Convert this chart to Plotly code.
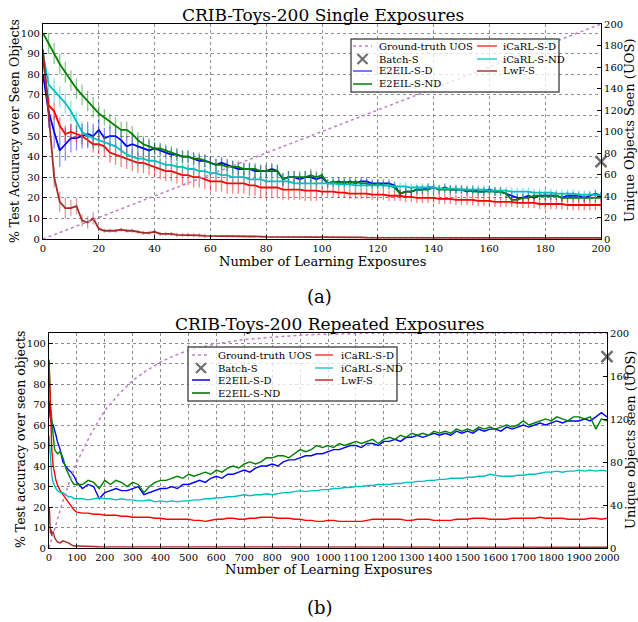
import plotly.graph_objects as go

W, H = 638, 622
FONT = "DejaVu Serif"

def PX(p):
    return p / W

def PY(p):
    return 1 - p / H

# ---------------- (a) Single exposures ----------------
top_x = list(range(0, 201, 2))

top_e2eil_d = [80, 62, 52, 43, 46, 49, 49, 50, 51, 50,
               53, 49, 50, 50, 48, 45, 46, 45, 44, 43,
               44, 43, 42, 41, 41, 40, 40, 39, 38, 38,
               37, 36, 37, 36, 35, 34, 34, 34, 33, 33,
               33, 34, 33, 29, 30, 30, 29, 30, 30, 29,
               30, 27, 27, 28, 27, 28, 27, 28, 28, 27,
               27, 27, 27, 26, 22, 23, 23, 24, 24, 25,
               25, 24, 25, 24, 24, 24, 23, 24, 23, 23,
               24, 23, 23, 22, 21, 20, 20, 21, 20, 21,
               21, 21, 21, 20, 21, 21, 21, 20, 21, 22,
               21]
top_e2eil_d_err = [0, 8, 8, 8, 8, 7, 6, 6, 6, 6] + [5] * 10 + [3] * 30 + [2] * 51

top_e2eil_nd = [100, 95, 90, 85, 81, 77, 73, 70, 67, 64,
                61, 59, 57, 55, 53, 53, 51, 48, 46, 45,
                44, 44, 43, 42, 41, 40, 40, 39, 39, 38,
                37, 36, 36, 35, 35, 35, 34, 34, 34, 33,
                33, 33, 33, 29, 30, 30, 30, 30, 31, 30,
                31, 27, 28, 27, 28, 27, 28, 27, 27, 26,
                27, 26, 26, 25, 22, 23, 23, 24, 24, 24,
                25, 24, 24, 24, 24, 24, 24, 23, 23, 23,
                23, 23, 23, 22, 19, 19, 20, 20, 21, 21,
                21, 21, 21, 20, 20, 20, 20, 20, 20, 20,
                20]
top_e2eil_nd_err = [0, 5, 5, 5, 5, 5, 5, 5, 5, 5] + [4] * 10 + [3] * 30 + [2] * 51

top_icarl_d = [88, 65, 62, 55, 51, 52, 51, 50, 48, 46,
               46, 45, 42, 41, 40, 39, 38, 37, 37, 36,
               35, 34, 33, 33, 32, 31, 31, 30, 30, 29,
               28, 28, 28, 27, 27, 27, 27, 26, 26, 25,
               25, 25, 25, 24, 24, 24, 24, 23.5, 23.5, 23.5,
               23, 23, 23, 22.5, 22.5, 22, 22, 22, 22, 21.5,
               21.5, 21.5, 21, 21, 21, 20.5, 20.5, 20, 20, 20,
               20, 19.5, 19.5, 19.5, 19, 19, 19, 19, 18.5, 18.5,
               18.5, 18, 18, 18, 18, 17.5, 17.5, 17.5, 17.5, 17,
               17, 17, 17, 17, 16.5, 16.5, 16.5, 16.5, 16.5, 16.5,
               16.5]
top_icarl_d_err = [0, 4, 4, 4, 4, 4, 4, 4, 4, 4] + [5] * 40 + [2.5] * 51

top_icarl_nd = [90, 75, 72, 69, 66, 62, 57, 52, 50, 49,
                48, 47, 46, 45, 43, 41, 40, 39, 39, 38,
                38, 37, 36, 36, 35, 35, 34, 34, 33, 33,
                32, 32, 31, 31, 30, 30, 30, 29, 29, 29,
                28, 28, 28, 28, 28, 27, 27, 27, 27, 27,
                27, 27, 27, 26.5, 26.5, 26.5, 26, 26, 26, 26,
                26, 26, 26, 25.5, 25.5, 25.5, 25, 25, 25, 25,
                25, 24.5, 24.5, 24.5, 24.5, 24, 24, 24, 24, 24,
                23.5, 23.5, 23.5, 23.5, 23, 23, 23, 23, 22.5, 22.5,
                22.5, 22.5, 22, 22, 22, 22, 21.5, 21.5, 21.5, 21.5,
                21]
top_icarl_nd_err = [0, 6, 6, 5, 5, 5, 5, 5, 5, 5] + [4] * 10 + [3] * 30 + [2] * 51

top_lwf = [92, 62, 30, 18, 15, 15, 16, 9, 8, 10,
           5, 4, 4, 4, 4.5, 4, 4, 3.5, 3, 3,
           3.5, 2.5, 2.5, 2.5, 2, 2, 2, 1.8, 1.8, 1.5,
           1.5, 1.5, 1.5, 1.3, 1.3, 1.3, 1.2, 1.2, 1.2, 1.2,
           1, 1, 1, 1, 1, 1, 1, 1, 1, 1,
           0.9, 1.0, 1.1, 1.0, 0.9, 0.8, 0.8, 0.8, 0.7, 0.7,
           0.8, 0.7, 0.7, 0.7, 0.6, 0.6, 0.7, 0.6, 0.6, 0.6,
           0.6, 0.6, 0.5, 0.5, 0.6, 0.5, 0.5, 0.5, 0.5, 0.5,
           0.5, 0.5, 0.5, 0.5, 0.5, 0.5, 0.5, 0.5, 0.5, 0.5,
           0.5, 0.5, 0.5, 0.5, 0.5, 0.5, 0.5, 0.5, 0.5, 0.5,
           0.5]
top_lwf_err = [0, 5, 5, 5, 5, 4, 4, 3, 3, 3] + [1] * 20 + [0.5] * 71

top_uos_x = [0, 50, 100, 150, 200]
top_uos_y = [0, 50, 100, 150, 200]
top_batch_x = [200]
top_batch_y = [72]

# ---------------- (b) Repeated exposures ----------------
bot_x = [0, 2, 4, 6, 8, 10, 15, 20, 25, 30, 40, 50, 60, 70, 80, 90] + list(range(100, 2001, 20))

bot_e2eil_d = [72, 66, 64, 63, 62, 61, 60, 58, 55, 52, 48, 42, 40, 38, 37, 35,
               32, 29, 31, 30, 24, 27, 28, 29, 28, 28,
               29, 30, 26, 27, 28, 29, 29, 30, 29, 31,
               31, 32, 33, 32, 34, 35, 34, 36, 36, 37,
               38, 37, 39, 40, 40, 41, 40, 42, 43, 43,
               44, 45, 45, 46, 46, 47, 48, 48, 49, 50,
               50, 49, 51, 51, 50, 52, 52, 53, 52, 54,
               54, 55, 54, 55, 56, 55, 56, 55, 57, 56,
               57, 56, 58, 57, 58, 58, 57, 59, 58, 59,
               60, 59, 60, 61, 60, 61, 62, 61, 62, 62,
               62, 63, 62, 64, 66, 64]

bot_e2eil_nd = [91, 80, 70, 68, 66, 62, 55, 48, 47, 46, 47, 44, 39, 36, 33, 31,
                31, 31, 33, 32, 29, 33, 31, 33, 32, 30,
                32, 31, 27, 30, 32, 33, 33, 34, 35, 34,
                36, 35, 36, 37, 36, 38, 37, 39, 40, 39,
                41, 42, 41, 42, 44, 44, 45, 45, 44, 46,
                48, 47, 48, 50, 49, 50, 49, 51, 50, 51,
                52, 51, 52, 53, 51, 53, 54, 53, 55, 54,
                56, 55, 56, 55, 57, 56, 57, 56, 58, 57,
                58, 57, 59, 58, 59, 58, 59, 60, 59, 60,
                62, 60, 61, 62, 63, 62, 64, 63, 62, 64,
                64, 63, 64, 58, 63, 62]

bot_icarl_d = [92, 82, 72, 60, 52, 48, 40, 36, 33, 31, 28, 26, 24, 22, 20, 18.5,
               17.5, 17, 17, 16.5, 16.5, 16, 16, 16, 15.5, 15.5,
               15, 15, 15, 15, 14.5, 14.5, 14, 14, 14, 14,
               14, 13.5, 13.5, 13, 13.5, 14, 14, 14.5, 14.5, 14,
               14, 14.5, 14.5, 15, 15, 15, 14.5, 14.5, 14.5, 14,
               14, 13.5, 13.5, 13, 13, 13.5, 13.5, 13, 13, 13,
               13, 13, 13.5, 14, 14, 14, 14, 14, 14, 13.5,
               13.5, 14, 14, 14, 13.5, 13.5, 13.5, 13.5, 14, 14,
               14, 14.5, 14.5, 14.5, 14, 14, 14, 14, 14.5, 14.5,
               14.5, 14.5, 14.5, 15, 14.5, 14.5, 14.5, 14.5, 14, 14,
               14, 14, 14.5, 14.5, 14, 14.5]

bot_icarl_nd = [55, 50, 44, 40, 37, 35, 32, 30, 29, 28, 27, 27, 26, 25, 25, 24,
                24, 24, 23.5, 24, 24.5, 24, 24, 23.5, 24, 23.5,
                23.5, 23, 23, 23.5, 22.5, 23, 22.5, 23, 22.5, 23,
                23, 23.5, 23.5, 24, 24, 24.5, 24.5, 25, 25, 25.5,
                26, 25.5, 26, 26, 26.5, 26, 26.5, 27, 27, 27.5,
                28, 27.5, 28, 28, 28.5, 28.5, 29, 29, 29.5, 29.5,
                30, 30, 30.5, 30.5, 31, 31, 31, 31.5, 31.5, 32,
                32, 32.5, 32.5, 33, 33, 33.5, 33.5, 34, 34, 34,
                34.5, 34.5, 35, 35, 36, 35.5, 35, 35, 35, 35.5,
                35.5, 36, 36, 36.5, 37, 37, 37.5, 37, 37.5, 37.5,
                38, 37.5, 38, 37.5, 38, 37.5]

bot_lwf = [20, 18, 10, 7, 9, 6, 8, 5, 4, 3, 2.5, 3.5, 3, 2.5, 1.5, 1,
           1.0, 0.8, 0.8, 0.7, 0.6, 0.6, 0.5, 0.6, 0.5, 0.5,
           0.5, 0.6, 0.5, 0.5, 0.6, 0.5, 0.5, 0.4, 0.5, 0.5,
           0.5, 0.4, 0.5, 0.5, 0.4, 0.5, 0.5, 0.5, 0.4, 0.5,
           0.6, 0.5, 0.5, 0.4, 0.5, 0.5, 0.5, 0.4, 0.4, 0.5,
           0.5, 0.4, 0.5, 0.5, 0.4, 0.4, 0.5, 0.4, 0.4, 0.5,
           0.4, 0.4, 0.5, 0.4, 0.4, 0.4, 0.5, 0.4, 0.4, 0.4,
           0.4, 0.4, 0.5, 0.4, 0.4, 0.4, 0.4, 0.4, 0.5, 0.4,
           0.4, 0.4, 0.4, 0.5, 0.4, 0.4, 0.4, 0.4, 0.6, 0.5,
           0.7, 0.6, 0.5, 0.4, 0.4, 0.5, 0.4, 0.4, 0.4, 0.4,
           0.4, 0.4, 0.5, 0.4, 0.4, 0.4]

bot_uos_x = [0, 25, 50, 75, 100, 150, 200, 250, 300, 350, 400, 450, 500,
             600, 700, 800, 900, 1000, 1200, 1400, 1600, 1800, 2000]
bot_uos_y = [0, 23, 44, 63, 80, 106, 128, 143, 156, 165, 173, 179, 184,
             190, 194, 196, 198, 199, 200, 200, 200, 200, 200]
bot_batch_x = [2000]
bot_batch_y = [178]

# ---------------- colours ----------------
C_BLUE = "#0000ff"
C_GREEN = "#008000"
C_RED = "#ff0000"
C_CYAN = "#00bfbf"
C_BROWN = "#a52a2a"
C_UOS = "#c27ccc"
C_X = "#6e6e6e"

fig = go.Figure()

def err_trace(x, y, err, color, err_rgba, name):
    return go.Scatter(
        x=x, y=y, mode="lines", name=name, xaxis="x", yaxis="y",
        line=dict(color=color, width=1.8),
        error_y=dict(type="data", array=err, color=err_rgba, thickness=1.3, width=0),
        showlegend=False,
    )

fig.add_trace(err_trace(top_x, top_e2eil_d, top_e2eil_d_err, C_BLUE, "rgba(0,0,255,0.45)", "E2EIL-S-D"))
fig.add_trace(err_trace(top_x, top_e2eil_nd, top_e2eil_nd_err, C_GREEN, "rgba(0,128,0,0.45)", "E2EIL-S-ND"))
fig.add_trace(err_trace(top_x, top_icarl_d, top_icarl_d_err, C_RED, "rgba(255,0,0,0.5)", "iCaRL-S-D"))
fig.add_trace(err_trace(top_x, top_icarl_nd, top_icarl_nd_err, C_CYAN, "rgba(0,191,191,0.45)", "iCaRL-S-ND"))
fig.add_trace(err_trace(top_x, top_lwf, top_lwf_err, C_BROWN, "rgba(165,42,42,0.45)", "LwF-S"))
fig.add_trace(go.Scatter(x=top_uos_x, y=top_uos_y, mode="lines", xaxis="x", yaxis="y2",
                         line=dict(color=C_UOS, width=1.5, dash="dot"), showlegend=False,
                         name="Ground-truth UOS"))
fig.add_trace(go.Scatter(x=top_batch_x, y=top_batch_y, mode="markers", xaxis="x", yaxis="y2",
                         marker=dict(symbol="x-thin", size=11, line=dict(width=2.5, color=C_X)),
                         cliponaxis=False, showlegend=False, name="Batch-S"))

def line_trace(x, y, color, name, width=1.4):
    return go.Scatter(x=x, y=y, mode="lines", name=name, xaxis="x2", yaxis="y3",
                      line=dict(color=color, width=width), showlegend=False)

fig.add_trace(line_trace(bot_x, bot_e2eil_d, C_BLUE, "E2EIL-S-D"))
fig.add_trace(line_trace(bot_x, bot_e2eil_nd, C_GREEN, "E2EIL-S-ND"))
fig.add_trace(line_trace(bot_x, bot_icarl_d, C_RED, "iCaRL-S-D"))
fig.add_trace(line_trace(bot_x, bot_icarl_nd, C_CYAN, "iCaRL-S-ND"))
fig.add_trace(line_trace(bot_x, bot_lwf, C_BROWN, "LwF-S"))
fig.add_trace(go.Scatter(x=bot_uos_x, y=bot_uos_y, mode="lines", xaxis="x2", yaxis="y4",
                         line=dict(color=C_UOS, width=1.5, dash="dot"), showlegend=False,
                         name="Ground-truth UOS"))
fig.add_trace(go.Scatter(x=bot_batch_x, y=bot_batch_y, mode="markers", xaxis="x2", yaxis="y4",
                         marker=dict(symbol="x-thin", size=11, line=dict(width=2.5, color=C_X)),
                         cliponaxis=False, showlegend=False, name="Batch-S"))

tickfont = dict(family=FONT, size=10, color="black")
common = dict(showline=True, linecolor="black", linewidth=1.2, ticks="inside", ticklen=4,
              tickcolor="black", tickfont=tickfont, zeroline=False, automargin=False)
grid = dict(showgrid=True, gridcolor="#8c8c8c", gridwidth=1, griddash="dot")

fig.update_layout(
    width=W, height=H, margin=dict(l=0, r=0, t=0, b=0),
    paper_bgcolor="white", plot_bgcolor="white",
    font=dict(family=FONT, color="black"),
    xaxis=dict(domain=[PX(43), PX(601)], anchor="y", range=[0, 200], dtick=20,
               mirror=True, **common, **grid),
    yaxis=dict(domain=[PY(239), PY(24)], anchor="x", range=[0, 104.4], dtick=10,
               **common, **grid),
    yaxis2=dict(overlaying="y", side="right", anchor="x", range=[0, 200], dtick=20,
                showgrid=False, **common),
    xaxis2=dict(domain=[PX(49), PX(607)], anchor="y3", range=[0, 2000], dtick=100,
                mirror=True, **common, **grid),
    yaxis3=dict(domain=[PY(548), PY(333)], anchor="x2", range=[0, 104.9], dtick=10,
                **common, **grid),
    yaxis4=dict(overlaying="y3", side="right", anchor="x2", range=[0, 200], dtick=40,
                showgrid=False, **common),
    showlegend=False,
)

ann = []
def text(x, y, s, size, angle=0, xanchor="center", color="black"):
    ann.append(dict(x=PX(x), y=PY(y), xref="paper", yref="paper", text=s, showarrow=False,
                    textangle=angle, xanchor=xanchor, yanchor="middle",
                    font=dict(family=FONT, size=size, color=color)))

# titles and axis titles
text(323, 15, "CRIB-Toys-200 Single Exposures", 17)
text(322, 261, "Number of Learning Exposures", 13)
text(14, 131, "% Test Accuracy over Seen Objects", 12.5, angle=-90)
text(629, 131, "Unique Objects Seen (UOS)", 13, angle=-90)
text(320, 296, "(a)", 18)

text(329, 324, "CRIB-Toys-200 Repeated Exposures", 17)
text(328, 569, "Number of Learning Exposures", 13)
text(20, 440, "% Test accuracy over seen objects", 12.5, angle=-90)
text(630, 440, "Unique objects seen (UOS)", 13, angle=-90)
text(320, 607, "(b)", 18)

shapes = []
def rect(x0, y0, x1, y1):
    shapes.append(dict(type="rect", xref="paper", yref="paper", x0=PX(x0), x1=PX(x1),
                       y0=PY(y1), y1=PY(y0), line=dict(color="#555555", width=1.5),
                       fillcolor="rgba(255,255,255,0.75)", layer="above"))

def seg(x0, y0, x1, y1, color, width=1.5, dash="solid"):
    shapes.append(dict(type="line", xref="paper", yref="paper", x0=PX(x0), x1=PX(x1),
                       y0=PY(y0), y1=PY(y1), line=dict(color=color, width=width, dash=dash),
                       layer="above"))

def legend(box, c1, c2, rows, entries1, entries2):
    rect(*box)
    for (kind, color, label), ry in zip(entries1, rows):
        if kind == "x":
            cx = (c1[0] + c1[1]) / 2
            seg(cx - 5, ry - 5, cx + 5, ry + 5, C_X, 2.2)
            seg(cx - 5, ry + 5, cx + 5, ry - 5, C_X, 2.2)
        else:
            seg(c1[0], ry, c1[1], ry, color, 1.5, "dot" if kind == "dot" else "solid")
        text(c1[2], ry, label, 10, xanchor="left")
    for (kind, color, label), ry in zip(entries2, rows):
        seg(c2[0], ry, c2[1], ry, color, 2 if kind == "thick" else 1.5)
        text(c2[2], ry, label, 10, xanchor="left")

legend((351, 39, 559, 92), (353, 372, 377), (477, 497, 501), [46, 59, 71, 84],
       [("dot", C_UOS, "Ground-truth UOS"), ("x", C_X, "Batch-S"),
        ("line", "#4a4aff", "E2EIL-S-D"), ("line", C_GREEN, "E2EIL-S-ND")],
       [("thick", "#ff6a6a", "iCaRL-S-D"), ("thick", "#66dada", "iCaRL-S-ND"),
        ("thick", "#c06a6a", "LwF-S")])

legend((188, 347, 397, 401), (192, 210, 216), (315, 333, 339), [355, 368, 380, 393],
       [("dot", C_UOS, "Ground-truth UOS"), ("x", C_X, "Batch-S"),
        ("line", C_BLUE, "E2EIL-S-D"), ("line", "#006400", "E2EIL-S-ND")],
       [("thick", "#ff6a6a", "iCaRL-S-D"), ("thick", "#66d2d2", "iCaRL-S-ND"),
        ("line", "#c03030", "LwF-S")])

fig.update_layout(annotations=ann, shapes=shapes)

fig.write_html("out.html", config={"displayModeBar": False},
               post_script="document.body.style.margin='0';document.body.style.padding='0';")
